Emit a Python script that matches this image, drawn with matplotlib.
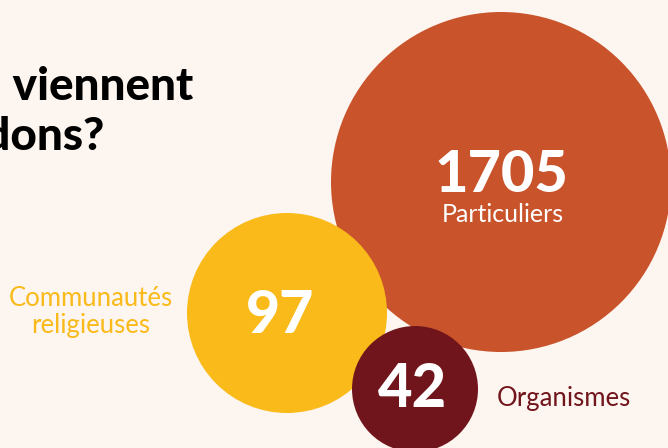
import matplotlib
matplotlib.use("Agg")
import matplotlib.pyplot as plt
from matplotlib.patches import Circle

# donnees
categories = ["Particuliers", "Communautés\nreligieuses", "Organismes"]
valeurs = [1705, 97, 42]

# mise en page (pixels)
centres = [(501, 182), (287, 313), (415, 389)]
rayons = [170, 100, 63]
couleurs = ["#C9532B", "#F9BA1A", "#71151C"]
fond = "#FDF5EF"

fig = plt.figure(figsize=(6.68, 4.48), dpi=100)
fig.patch.set_facecolor(fond)
ax = fig.add_axes([0, 0, 1, 1])
ax.set_facecolor(fond)
ax.set_xlim(0, 668)
ax.set_ylim(448, 0)
ax.set_aspect("equal")
ax.axis("off")

for (cx, cy), r, c in zip(centres, rayons, couleurs):
    ax.add_patch(Circle((cx, cy), r, facecolor=c, edgecolor="none"))

police = ["Lato", "DejaVu Sans"]

# titre (coupe a gauche comme dans l'original)
ax.text(193, 100, "D’où viennent", ha="right", va="baseline", fontsize=33,
        fontweight="black", family=police, color="black")
ax.text(83, 150, "les dons", ha="right", va="baseline", fontsize=33,
        fontweight="black", family=police, color="black")
ax.text(104, 150, "?", ha="right", va="baseline", fontsize=33,
        fontweight="black", family=police, color="black")

# Particuliers
ax.text(centres[0][0], 192, str(valeurs[0]), ha="center", va="baseline",
        fontsize=41.5, fontweight="black", family=police, color="white")
ax.text(centres[0][0] + 2, 222, categories[0], ha="center", va="baseline",
        fontsize=18, family=police, color="white")

# Communautes religieuses
ax.text(280, 333, str(valeurs[1]), ha="center", va="baseline",
        fontsize=42.5, fontweight="black", family=police, color="white")
ax.text(91, 312, categories[1], ha="center", va="center", fontsize=18.5,
        family=police, color=couleurs[1], linespacing=1.1)

# Organismes
ax.text(413, 407, str(valeurs[2]), ha="center", va="baseline",
        fontsize=43, fontweight="black", family=police, color="white")
ax.text(497, 406, categories[2], ha="left", va="baseline", fontsize=18.5,
        family=police, color=couleurs[2])

fig.savefig("out.png", dpi=100, facecolor=fond)
